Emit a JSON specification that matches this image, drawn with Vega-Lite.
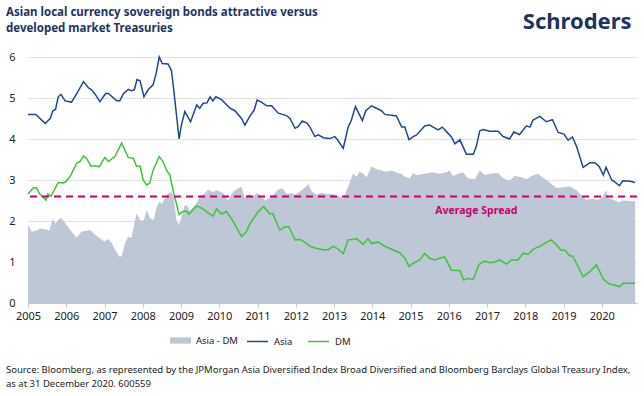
{
"$schema": "https://vega.github.io/schema/vega-lite/v6.json",
"width": 609, "height": 246,
"autosize": {"type": "none"},
"padding": {"left": 28, "top": 57, "right": 7, "bottom": 93},
"background": "white",
"config": {"view": {"stroke": null}, "font": "Noto Sans", "text": {"font": "Noto Sans"}},
"datasets": {
"series": [
{"t":2005.0,"s":"Asia","v":4.6},{"t":2005.2,"s":"Asia","v":4.6},{"t":2005.45,"s":"Asia","v":4.38},{"t":2005.58,"s":"Asia","v":4.5},{"t":2005.65,"s":"Asia","v":4.69},{"t":2005.72,"s":"Asia","v":4.72},{"t":2005.79,"s":"Asia","v":5.03},{"t":2005.86,"s":"Asia","v":5.09},{"t":2005.97,"s":"Asia","v":4.93},{"t":2006.14,"s":"Asia","v":4.9},{"t":2006.3,"s":"Asia","v":5.15},{"t":2006.45,"s":"Asia","v":5.4},{"t":2006.58,"s":"Asia","v":5.25},{"t":2006.66,"s":"Asia","v":5.2},{"t":2006.75,"s":"Asia","v":5.1},{"t":2006.88,"s":"Asia","v":4.91},{"t":2007.03,"s":"Asia","v":5.11},{"t":2007.1,"s":"Asia","v":5.11},{"t":2007.32,"s":"Asia","v":4.93},{"t":2007.4,"s":"Asia","v":4.93},{"t":2007.49,"s":"Asia","v":5.1},{"t":2007.62,"s":"Asia","v":5.21},{"t":2007.7,"s":"Asia","v":5.18},{"t":2007.78,"s":"Asia","v":5.2},{"t":2007.85,"s":"Asia","v":5.45},{"t":2007.93,"s":"Asia","v":5.42},{"t":2008.03,"s":"Asia","v":5.03},{"t":2008.14,"s":"Asia","v":5.2},{"t":2008.27,"s":"Asia","v":5.32},{"t":2008.35,"s":"Asia","v":5.6},{"t":2008.43,"s":"Asia","v":6.0},{"t":2008.51,"s":"Asia","v":5.84},{"t":2008.66,"s":"Asia","v":5.83},{"t":2008.75,"s":"Asia","v":5.67},{"t":2008.81,"s":"Asia","v":5.2},{"t":2008.95,"s":"Asia","v":4.0},{"t":2009.01,"s":"Asia","v":4.34},{"t":2009.1,"s":"Asia","v":4.67},{"t":2009.25,"s":"Asia","v":4.42},{"t":2009.41,"s":"Asia","v":4.83},{"t":2009.49,"s":"Asia","v":4.75},{"t":2009.58,"s":"Asia","v":4.87},{"t":2009.68,"s":"Asia","v":4.88},{"t":2009.76,"s":"Asia","v":5.03},{"t":2009.83,"s":"Asia","v":4.93},{"t":2009.91,"s":"Asia","v":5.03},{"t":2010.06,"s":"Asia","v":4.96},{"t":2010.28,"s":"Asia","v":4.75},{"t":2010.41,"s":"Asia","v":4.69},{"t":2010.58,"s":"Asia","v":4.5},{"t":2010.67,"s":"Asia","v":4.34},{"t":2010.8,"s":"Asia","v":4.56},{"t":2010.91,"s":"Asia","v":4.7},{"t":2010.99,"s":"Asia","v":4.95},{"t":2011.1,"s":"Asia","v":4.9},{"t":2011.24,"s":"Asia","v":4.81},{"t":2011.37,"s":"Asia","v":4.81},{"t":2011.54,"s":"Asia","v":4.63},{"t":2011.76,"s":"Asia","v":4.57},{"t":2011.85,"s":"Asia","v":4.5},{"t":2011.98,"s":"Asia","v":4.26},{"t":2012.06,"s":"Asia","v":4.3},{"t":2012.17,"s":"Asia","v":4.44},{"t":2012.3,"s":"Asia","v":4.38},{"t":2012.37,"s":"Asia","v":4.29},{"t":2012.5,"s":"Asia","v":4.06},{"t":2012.59,"s":"Asia","v":4.1},{"t":2012.72,"s":"Asia","v":4.03},{"t":2012.89,"s":"Asia","v":4.01},{"t":2013.02,"s":"Asia","v":4.06},{"t":2013.1,"s":"Asia","v":3.97},{"t":2013.24,"s":"Asia","v":3.77},{"t":2013.37,"s":"Asia","v":4.29},{"t":2013.45,"s":"Asia","v":4.45},{"t":2013.56,"s":"Asia","v":4.79},{"t":2013.66,"s":"Asia","v":4.6},{"t":2013.74,"s":"Asia","v":4.45},{"t":2013.83,"s":"Asia","v":4.69},{"t":2013.98,"s":"Asia","v":4.81},{"t":2014.11,"s":"Asia","v":4.75},{"t":2014.24,"s":"Asia","v":4.69},{"t":2014.33,"s":"Asia","v":4.6},{"t":2014.5,"s":"Asia","v":4.58},{"t":2014.63,"s":"Asia","v":4.56},{"t":2014.77,"s":"Asia","v":4.29},{"t":2014.85,"s":"Asia","v":4.29},{"t":2014.96,"s":"Asia","v":3.98},{"t":2015.07,"s":"Asia","v":4.06},{"t":2015.16,"s":"Asia","v":4.1},{"t":2015.37,"s":"Asia","v":4.32},{"t":2015.5,"s":"Asia","v":4.34},{"t":2015.59,"s":"Asia","v":4.29},{"t":2015.72,"s":"Asia","v":4.22},{"t":2015.83,"s":"Asia","v":4.29},{"t":2015.94,"s":"Asia","v":4.18},{"t":2016.07,"s":"Asia","v":4.05},{"t":2016.16,"s":"Asia","v":3.88},{"t":2016.29,"s":"Asia","v":3.98},{"t":2016.46,"s":"Asia","v":3.63},{"t":2016.64,"s":"Asia","v":3.63},{"t":2016.72,"s":"Asia","v":3.82},{"t":2016.81,"s":"Asia","v":4.2},{"t":2016.9,"s":"Asia","v":4.23},{"t":2017.07,"s":"Asia","v":4.19},{"t":2017.29,"s":"Asia","v":4.19},{"t":2017.42,"s":"Asia","v":4.06},{"t":2017.59,"s":"Asia","v":4.0},{"t":2017.7,"s":"Asia","v":4.17},{"t":2017.85,"s":"Asia","v":4.11},{"t":2018.03,"s":"Asia","v":4.32},{"t":2018.12,"s":"Asia","v":4.29},{"t":2018.2,"s":"Asia","v":4.46},{"t":2018.38,"s":"Asia","v":4.55},{"t":2018.55,"s":"Asia","v":4.42},{"t":2018.71,"s":"Asia","v":4.47},{"t":2018.86,"s":"Asia","v":4.16},{"t":2019.01,"s":"Asia","v":4.12},{"t":2019.12,"s":"Asia","v":3.97},{"t":2019.23,"s":"Asia","v":4.05},{"t":2019.34,"s":"Asia","v":3.82},{"t":2019.51,"s":"Asia","v":3.31},{"t":2019.69,"s":"Asia","v":3.42},{"t":2019.82,"s":"Asia","v":3.42},{"t":2019.93,"s":"Asia","v":3.33},{"t":2020.04,"s":"Asia","v":3.12},{"t":2020.11,"s":"Asia","v":3.31},{"t":2020.26,"s":"Asia","v":3.0},{"t":2020.33,"s":"Asia","v":2.96},{"t":2020.46,"s":"Asia","v":2.86},{"t":2020.55,"s":"Asia","v":2.98},{"t":2020.74,"s":"Asia","v":2.97},{"t":2020.87,"s":"Asia","v":2.94},
{"t":2005.0,"s":"DM","v":2.66},{"t":2005.14,"s":"DM","v":2.81},{"t":2005.22,"s":"DM","v":2.81},{"t":2005.31,"s":"DM","v":2.66},{"t":2005.47,"s":"DM","v":2.51},{"t":2005.52,"s":"DM","v":2.66},{"t":2005.6,"s":"DM","v":2.6},{"t":2005.79,"s":"DM","v":2.94},{"t":2005.92,"s":"DM","v":2.93},{"t":2005.98,"s":"DM","v":2.95},{"t":2006.11,"s":"DM","v":3.1},{"t":2006.27,"s":"DM","v":3.41},{"t":2006.36,"s":"DM","v":3.45},{"t":2006.45,"s":"DM","v":3.59},{"t":2006.54,"s":"DM","v":3.52},{"t":2006.64,"s":"DM","v":3.34},{"t":2006.8,"s":"DM","v":3.34},{"t":2006.86,"s":"DM","v":3.32},{"t":2007.01,"s":"DM","v":3.55},{"t":2007.1,"s":"DM","v":3.45},{"t":2007.27,"s":"DM","v":3.57},{"t":2007.45,"s":"DM","v":3.9},{"t":2007.62,"s":"DM","v":3.55},{"t":2007.75,"s":"DM","v":3.53},{"t":2007.84,"s":"DM","v":3.33},{"t":2007.93,"s":"DM","v":3.34},{"t":2008.01,"s":"DM","v":3.0},{"t":2008.1,"s":"DM","v":2.88},{"t":2008.18,"s":"DM","v":2.92},{"t":2008.27,"s":"DM","v":3.24},{"t":2008.43,"s":"DM","v":3.57},{"t":2008.53,"s":"DM","v":3.45},{"t":2008.62,"s":"DM","v":3.24},{"t":2008.71,"s":"DM","v":3.12},{"t":2008.79,"s":"DM","v":2.76},{"t":2008.95,"s":"DM","v":2.16},{"t":2009.06,"s":"DM","v":2.24},{"t":2009.14,"s":"DM","v":2.24},{"t":2009.21,"s":"DM","v":2.17},{"t":2009.41,"s":"DM","v":2.37},{"t":2009.56,"s":"DM","v":2.3},{"t":2009.71,"s":"DM","v":2.2},{"t":2009.84,"s":"DM","v":2.12},{"t":2009.93,"s":"DM","v":2.3},{"t":2010.06,"s":"DM","v":2.17},{"t":2010.19,"s":"DM","v":2.23},{"t":2010.37,"s":"DM","v":1.98},{"t":2010.58,"s":"DM","v":1.62},{"t":2010.71,"s":"DM","v":1.74},{"t":2010.8,"s":"DM","v":1.93},{"t":2011.02,"s":"DM","v":2.23},{"t":2011.16,"s":"DM","v":2.35},{"t":2011.32,"s":"DM","v":2.17},{"t":2011.4,"s":"DM","v":2.18},{"t":2011.58,"s":"DM","v":1.78},{"t":2011.72,"s":"DM","v":1.86},{"t":2011.82,"s":"DM","v":1.86},{"t":2011.98,"s":"DM","v":1.54},{"t":2012.11,"s":"DM","v":1.55},{"t":2012.27,"s":"DM","v":1.46},{"t":2012.37,"s":"DM","v":1.38},{"t":2012.5,"s":"DM","v":1.34},{"t":2012.72,"s":"DM","v":1.3},{"t":2012.85,"s":"DM","v":1.3},{"t":2012.98,"s":"DM","v":1.38},{"t":2013.1,"s":"DM","v":1.32},{"t":2013.24,"s":"DM","v":1.2},{"t":2013.37,"s":"DM","v":1.54},{"t":2013.48,"s":"DM","v":1.55},{"t":2013.59,"s":"DM","v":1.57},{"t":2013.76,"s":"DM","v":1.43},{"t":2013.89,"s":"DM","v":1.57},{"t":2013.98,"s":"DM","v":1.45},{"t":2014.15,"s":"DM","v":1.49},{"t":2014.33,"s":"DM","v":1.38},{"t":2014.54,"s":"DM","v":1.3},{"t":2014.72,"s":"DM","v":1.22},{"t":2014.85,"s":"DM","v":1.1},{"t":2014.96,"s":"DM","v":0.89},{"t":2015.07,"s":"DM","v":0.97},{"t":2015.24,"s":"DM","v":1.05},{"t":2015.37,"s":"DM","v":1.21},{"t":2015.5,"s":"DM","v":1.09},{"t":2015.63,"s":"DM","v":1.05},{"t":2015.89,"s":"DM","v":1.13},{"t":2016.07,"s":"DM","v":0.8},{"t":2016.29,"s":"DM","v":0.79},{"t":2016.39,"s":"DM","v":0.56},{"t":2016.5,"s":"DM","v":0.6},{"t":2016.64,"s":"DM","v":0.58},{"t":2016.79,"s":"DM","v":0.94},{"t":2016.94,"s":"DM","v":1.02},{"t":2017.07,"s":"DM","v":0.98},{"t":2017.2,"s":"DM","v":1.0},{"t":2017.33,"s":"DM","v":1.05},{"t":2017.51,"s":"DM","v":0.95},{"t":2017.64,"s":"DM","v":1.05},{"t":2017.81,"s":"DM","v":1.05},{"t":2017.94,"s":"DM","v":1.21},{"t":2018.07,"s":"DM","v":1.19},{"t":2018.22,"s":"DM","v":1.32},{"t":2018.38,"s":"DM","v":1.38},{"t":2018.55,"s":"DM","v":1.48},{"t":2018.68,"s":"DM","v":1.54},{"t":2018.81,"s":"DM","v":1.42},{"t":2018.94,"s":"DM","v":1.28},{"t":2019.03,"s":"DM","v":1.29},{"t":2019.16,"s":"DM","v":1.15},{"t":2019.24,"s":"DM","v":1.14},{"t":2019.38,"s":"DM","v":0.89},{"t":2019.51,"s":"DM","v":0.64},{"t":2019.69,"s":"DM","v":0.77},{"t":2019.86,"s":"DM","v":0.93},{"t":2020.04,"s":"DM","v":0.58},{"t":2020.2,"s":"DM","v":0.46},{"t":2020.33,"s":"DM","v":0.44},{"t":2020.46,"s":"DM","v":0.4},{"t":2020.56,"s":"DM","v":0.48},{"t":2020.87,"s":"DM","v":0.48},
{"t":2005.0,"s":"Asia - DM","v":1.9},{"t":2005.1,"s":"Asia - DM","v":1.74},{"t":2005.23,"s":"Asia - DM","v":1.77},{"t":2005.31,"s":"Asia - DM","v":1.82},{"t":2005.45,"s":"Asia - DM","v":1.8},{"t":2005.56,"s":"Asia - DM","v":1.76},{"t":2005.64,"s":"Asia - DM","v":2.04},{"t":2005.72,"s":"Asia - DM","v":1.94},{"t":2005.84,"s":"Asia - DM","v":2.08},{"t":2005.9,"s":"Asia - DM","v":2.04},{"t":2006.01,"s":"Asia - DM","v":1.9},{"t":2006.14,"s":"Asia - DM","v":1.74},{"t":2006.27,"s":"Asia - DM","v":1.6},{"t":2006.4,"s":"Asia - DM","v":1.74},{"t":2006.62,"s":"Asia - DM","v":1.78},{"t":2006.75,"s":"Asia - DM","v":1.67},{"t":2006.88,"s":"Asia - DM","v":1.58},{"t":2006.99,"s":"Asia - DM","v":1.5},{"t":2007.1,"s":"Asia - DM","v":1.56},{"t":2007.19,"s":"Asia - DM","v":1.46},{"t":2007.27,"s":"Asia - DM","v":1.31},{"t":2007.39,"s":"Asia - DM","v":1.13},{"t":2007.45,"s":"Asia - DM","v":1.14},{"t":2007.53,"s":"Asia - DM","v":1.45},{"t":2007.62,"s":"Asia - DM","v":1.62},{"t":2007.7,"s":"Asia - DM","v":1.58},{"t":2007.84,"s":"Asia - DM","v":2.19},{"t":2007.93,"s":"Asia - DM","v":2.02},{"t":2008.03,"s":"Asia - DM","v":2.02},{"t":2008.1,"s":"Asia - DM","v":2.27},{"t":2008.19,"s":"Asia - DM","v":2.07},{"t":2008.29,"s":"Asia - DM","v":2.03},{"t":2008.35,"s":"Asia - DM","v":2.3},{"t":2008.43,"s":"Asia - DM","v":2.47},{"t":2008.5,"s":"Asia - DM","v":2.42},{"t":2008.58,"s":"Asia - DM","v":2.55},{"t":2008.66,"s":"Asia - DM","v":2.67},{"t":2008.75,"s":"Asia - DM","v":2.71},{"t":2008.81,"s":"Asia - DM","v":2.58},{"t":2008.88,"s":"Asia - DM","v":2.02},{"t":2008.95,"s":"Asia - DM","v":1.9},{"t":2009.01,"s":"Asia - DM","v":2.1},{"t":2009.1,"s":"Asia - DM","v":2.39},{"t":2009.16,"s":"Asia - DM","v":2.37},{"t":2009.23,"s":"Asia - DM","v":2.25},{"t":2009.41,"s":"Asia - DM","v":2.44},{"t":2009.49,"s":"Asia - DM","v":2.6},{"t":2009.58,"s":"Asia - DM","v":2.64},{"t":2009.71,"s":"Asia - DM","v":2.76},{"t":2009.84,"s":"Asia - DM","v":2.71},{"t":2009.93,"s":"Asia - DM","v":2.75},{"t":2010.1,"s":"Asia - DM","v":2.68},{"t":2010.23,"s":"Asia - DM","v":2.5},{"t":2010.37,"s":"Asia - DM","v":2.72},{"t":2010.5,"s":"Asia - DM","v":2.8},{"t":2010.58,"s":"Asia - DM","v":2.84},{"t":2010.67,"s":"Asia - DM","v":2.55},{"t":2010.78,"s":"Asia - DM","v":2.66},{"t":2010.88,"s":"Asia - DM","v":2.6},{"t":2010.99,"s":"Asia - DM","v":2.68},{"t":2011.08,"s":"Asia - DM","v":2.62},{"t":2011.21,"s":"Asia - DM","v":2.5},{"t":2011.37,"s":"Asia - DM","v":2.6},{"t":2011.54,"s":"Asia - DM","v":2.77},{"t":2011.65,"s":"Asia - DM","v":2.8},{"t":2011.76,"s":"Asia - DM","v":2.66},{"t":2011.89,"s":"Asia - DM","v":2.68},{"t":2011.98,"s":"Asia - DM","v":2.64},{"t":2012.11,"s":"Asia - DM","v":2.72},{"t":2012.27,"s":"Asia - DM","v":2.84},{"t":2012.33,"s":"Asia - DM","v":2.9},{"t":2012.42,"s":"Asia - DM","v":2.72},{"t":2012.54,"s":"Asia - DM","v":2.64},{"t":2012.68,"s":"Asia - DM","v":2.69},{"t":2012.81,"s":"Asia - DM","v":2.66},{"t":2012.98,"s":"Asia - DM","v":2.66},{"t":2013.11,"s":"Asia - DM","v":2.61},{"t":2013.24,"s":"Asia - DM","v":2.55},{"t":2013.37,"s":"Asia - DM","v":2.84},{"t":2013.5,"s":"Asia - DM","v":3.16},{"t":2013.59,"s":"Asia - DM","v":3.08},{"t":2013.67,"s":"Asia - DM","v":3.2},{"t":2013.76,"s":"Asia - DM","v":3.16},{"t":2013.85,"s":"Asia - DM","v":3.07},{"t":2013.98,"s":"Asia - DM","v":3.33},{"t":2014.11,"s":"Asia - DM","v":3.26},{"t":2014.24,"s":"Asia - DM","v":3.23},{"t":2014.37,"s":"Asia - DM","v":3.2},{"t":2014.5,"s":"Asia - DM","v":3.23},{"t":2014.63,"s":"Asia - DM","v":3.18},{"t":2014.76,"s":"Asia - DM","v":3.15},{"t":2014.85,"s":"Asia - DM","v":3.08},{"t":2014.98,"s":"Asia - DM","v":3.04},{"t":2015.07,"s":"Asia - DM","v":3.17},{"t":2015.16,"s":"Asia - DM","v":3.12},{"t":2015.39,"s":"Asia - DM","v":3.15},{"t":2015.57,"s":"Asia - DM","v":3.19},{"t":2015.74,"s":"Asia - DM","v":3.15},{"t":2015.94,"s":"Asia - DM","v":3.19},{"t":2016.02,"s":"Asia - DM","v":3.23},{"t":2016.11,"s":"Asia - DM","v":3.1},{"t":2016.24,"s":"Asia - DM","v":3.15},{"t":2016.37,"s":"Asia - DM","v":3.19},{"t":2016.5,"s":"Asia - DM","v":3.04},{"t":2016.68,"s":"Asia - DM","v":3.02},{"t":2016.81,"s":"Asia - DM","v":3.23},{"t":2016.94,"s":"Asia - DM","v":3.12},{"t":2017.07,"s":"Asia - DM","v":3.15},{"t":2017.29,"s":"Asia - DM","v":3.17},{"t":2017.42,"s":"Asia - DM","v":3.04},{"t":2017.59,"s":"Asia - DM","v":2.98},{"t":2017.72,"s":"Asia - DM","v":3.1},{"t":2017.9,"s":"Asia - DM","v":3.07},{"t":2018.03,"s":"Asia - DM","v":3.02},{"t":2018.16,"s":"Asia - DM","v":3.1},{"t":2018.33,"s":"Asia - DM","v":3.15},{"t":2018.46,"s":"Asia - DM","v":3.06},{"t":2018.64,"s":"Asia - DM","v":2.94},{"t":2018.81,"s":"Asia - DM","v":2.81},{"t":2018.98,"s":"Asia - DM","v":2.82},{"t":2019.16,"s":"Asia - DM","v":2.85},{"t":2019.34,"s":"Asia - DM","v":2.75},{"t":2019.47,"s":"Asia - DM","v":2.62},{"t":2019.6,"s":"Asia - DM","v":2.52},{"t":2019.73,"s":"Asia - DM","v":2.54},{"t":2019.9,"s":"Asia - DM","v":2.52},{"t":2020.03,"s":"Asia - DM","v":2.6},{"t":2020.11,"s":"Asia - DM","v":2.75},{"t":2020.17,"s":"Asia - DM","v":2.56},{"t":2020.29,"s":"Asia - DM","v":2.52},{"t":2020.46,"s":"Asia - DM","v":2.46},{"t":2020.55,"s":"Asia - DM","v":2.5},{"t":2020.87,"s":"Asia - DM","v":2.48}
],
"avg": [{"v": 2.6}],
"labels": [{"t": 2016.72, "v": 2.25, "label": "Average Spread"}],
"logo": [{"t": 2020.78, "v": 6.86, "label": "Schroders"}],
"heading": [
{"t": 2004.425, "v": 7.08, "label": "Asian local currency sovereign bonds attractive versus"},
{"t": 2004.425, "v": 6.68, "label": "developed market Treasuries"}
],
"source": [
{"t": 2004.425, "v": -1.63, "label": "Source: Bloomberg, as represented by the JPMorgan Asia Diversified Index Broad Diversified and Bloomberg Barclays Global Treasury Index,"},
{"t": 2004.425, "v": -1.98, "label": "as at 31 December 2020. 600559"}
]
},
"layer": [
{
"data": {"name": "series"},
"transform": [{"filter": "datum.s === 'Asia - DM'"}],
"mark": {"type": "area", "opacity": 1},
"encoding": {
"x": {"field": "t", "type": "quantitative", "scale": {"domain": [2005, 2020.92], "nice": false, "zero": false},
"axis": {"values": [2005,2006,2007,2008,2009,2010,2011,2012,2013,2014,2015,2016,2017,2018,2019,2020], "format": "d", "title": null, "grid": false, "labelFlush": false, "labelOverlap": false, "labelFontSize": 11, "labelColor": "#222", "domainColor": "#c8c8c8", "tickColor": "#c8c8c8", "tickSize": 4, "labelPadding": 3, "labelFont": "Noto Sans"}},
"y": {"field": "v", "type": "quantitative", "scale": {"domain": [0, 6], "nice": false},
"axis": {"values": [0,1,2,3,4,5,6], "title": null, "grid": true, "gridColor": "#e2e2e2", "domain": false, "ticks": false, "labelPadding": 13, "labelFontSize": 11, "labelColor": "#222", "labelFont": "Noto Sans"}},
"fill": {"field": "s", "type": "nominal", "scale": {"domain": ["Asia - DM"], "range": ["#bdc7d5"]},
"legend": {"title": null, "orient": "none", "legendX": 142, "legendY": 273, "direction": "horizontal", "labelFontSize": 9.5, "labelColor": "#222", "labelFont": "Noto Sans", "symbolType": "M-1,-0.3H1V0.3H-1Z", "symbolSize": 441, "symbolStrokeWidth": 0, "symbolOpacity": 1, "labelOffset": 5}}
}
},
{
"data": {"name": "series"},
"transform": [{"filter": "datum.s !== 'Asia - DM'"}],
"mark": {"type": "line", "strokeWidth": 1.5},
"encoding": {
"x": {"field": "t", "type": "quantitative"},
"y": {"field": "v", "type": "quantitative"},
"stroke": {"field": "s", "type": "nominal", "scale": {"domain": ["Asia", "DM"], "range": ["#1f4a8a", "#3ec43a"]},
"legend": {"title": null, "orient": "none", "legendX": 218, "legendY": 273, "direction": "horizontal", "labelFontSize": 9.5, "labelColor": "#222", "labelFont": "Noto Sans", "symbolType": "stroke", "symbolSize": 441, "symbolStrokeWidth": 1.5, "labelOffset": 5, "columnPadding": 12}}
}
},
{
"data": {"name": "avg"},
"mark": {"type": "rule", "color": "#c8006e", "strokeWidth": 2, "strokeDash": [7, 5]},
"encoding": {"y": {"field": "v", "type": "quantitative"}}
},
{
"data": {"name": "labels"},
"mark": {"type": "text", "color": "#c8006e", "fontWeight": "bold", "fontSize": 10.5, "font": "Noto Sans"},
"encoding": {"x": {"field": "t", "type": "quantitative"}, "y": {"field": "v", "type": "quantitative"}, "text": {"field": "label"}}
},
{
"data": {"name": "logo"},
"mark": {"type": "text", "color": "#1d3461", "fontWeight": "bold", "fontSize": 22, "align": "right", "baseline": "middle", "font": "Noto Sans"},
"encoding": {"x": {"field": "t", "type": "quantitative"}, "y": {"field": "v", "type": "quantitative"}, "text": {"field": "label"}}
},
{
"data": {"name": "heading"},
"mark": {"type": "text", "color": "#1d3461", "fontWeight": "bold", "fontSize": 11.5, "align": "left", "baseline": "middle", "font": "Noto Sans"},
"encoding": {"x": {"field": "t", "type": "quantitative"}, "y": {"field": "v", "type": "quantitative"}, "text": {"field": "label"}}
},
{
"data": {"name": "source"},
"mark": {"type": "text", "color": "#222", "fontSize": 9.5, "align": "left", "baseline": "middle", "font": "Noto Sans"},
"encoding": {"x": {"field": "t", "type": "quantitative"}, "y": {"field": "v", "type": "quantitative"}, "text": {"field": "label"}}
}
]
}
